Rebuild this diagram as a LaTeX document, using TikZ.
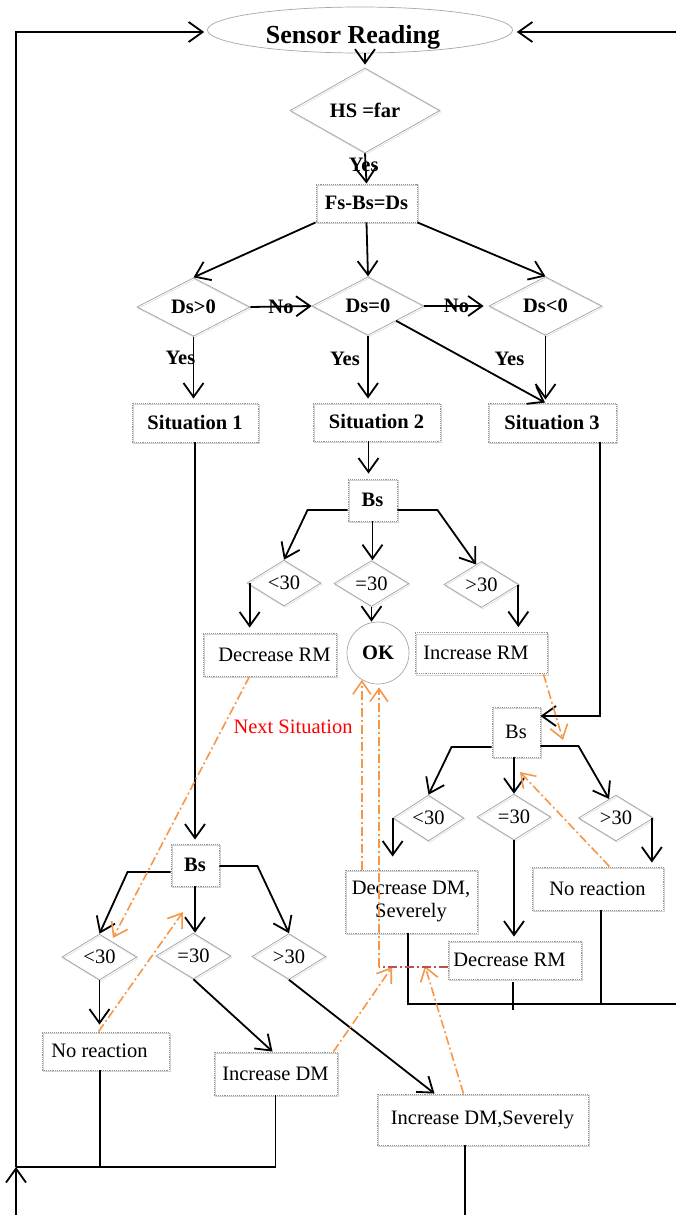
\documentclass[tikz,border=0pt]{standalone}
\usepackage{fontspec}
\setmainfont{Liberation Serif}
\usetikzlibrary{arrows.meta,shapes.geometric,calc}
\definecolor{flowaccent}{RGB}{247,150,70}
\definecolor{linkred}{RGB}{192,80,77}
\begin{document}
\begin{tikzpicture}[x=1pt,y=1pt,
  txt/.style={font=\fontsize{20.5}{23}\selectfont},
  btxt/.style={font=\fontsize{20.5}{23}\selectfont\bfseries},
  stepbox/.style={draw=gray!85, densely dotted, line width=0.9pt, inner sep=0pt, align=center,
    preaction={draw=gray!35, solid, line width=0.8pt, transform canvas={shift={(1.5pt,-1.8pt)}}}},
  decision/.style={diamond, draw=gray!75, line width=0.7pt, inner sep=0pt,
    preaction={draw=gray!25, line width=0.7pt, transform canvas={shift={(1pt,-1.5pt)}}}},
  arr/.style={-{Straight Barb[length=14pt,width=20pt]}, line width=1.8pt},
  link/.style={line width=1.8pt},
  dashdot/.style={line width=1.6pt, dash pattern=on 9pt off 3pt on 2pt off 3pt},
  backref/.style={dashdot, draw=flowaccent, -{Straight Barb[length=13pt,width=18pt]}},
  lbl/.style={btxt, inner sep=0pt}
]
\useasboundingbox (0,0) rectangle (676,-1215);

% ---- top of the chart
\node[ellipse, draw=gray!70, line width=0.7pt, minimum width=305pt, minimum height=46pt, inner sep=0pt,
      font=\fontsize{26}{28}\selectfont\bfseries] (sensor) at (360,-30)
      {\raisebox{-14pt}[0pt][0pt]{\makebox[0pt]{\kern-14pt Sensor Reading}}};
\node[decision, btxt, minimum width=150pt, minimum height=55pt] (hs) at (365,-110.5) {HS =far};
\node[stepbox, btxt, minimum width=101pt, minimum height=38pt] (fs) at (366.5,-203) {Fs-Bs=Ds};

\node[decision, btxt, minimum width=113pt, minimum height=56pt] (dsp) at (193.5,-307) {Ds>0};
\node[decision, btxt, minimum width=112pt, minimum height=56pt] (dsz) at (368,-306) {Ds=0};
\node[decision, btxt, minimum width=113pt, minimum height=56pt] (dsn) at (545.5,-306) {Ds<0};

\node[stepbox, btxt, minimum width=126pt, minimum height=39pt] (sit1) at (195,-422.5) {Situation 1};
\node[stepbox, btxt, minimum width=127pt, minimum height=38pt] (sit2) at (376.5,-422) {Situation 2};
\node[stepbox, btxt, minimum width=128pt, minimum height=39pt] (sit3) at (552,-422.5) {Situation 3};

% ---- situation 2 branch
\node[stepbox, btxt, minimum width=49pt, minimum height=42pt] (bsM) at (372.5,-500) {Bs};
\node[decision, txt, minimum width=74pt, minimum height=43pt] (lt30M) at (284,-583) {<30};
\node[decision, txt, minimum width=75pt, minimum height=43pt] (eq30M) at (371.5,-583.5) {=30};
\node[decision, txt, minimum width=75pt, minimum height=43pt] (gt30M) at (481.5,-584.5) {>30};
\node[stepbox, txt, minimum width=133pt, minimum height=43pt] (decRM) at (269.5,-654.5) {\hspace{10pt}Decrease RM};
\node[circle, draw=gray!70, line width=0.7pt, minimum size=62pt, inner sep=0pt, btxt] (ok) at (378,-653) {OK};
\node[stepbox, txt, minimum width=132pt, minimum height=41pt] (incRM) at (481,-653) {Increase RM\hspace{10pt}};

% ---- situation 3 branch
\node[stepbox, txt, minimum width=48pt, minimum height=50pt] (bsR) at (516,-732) {Bs};
\node[decision, txt, minimum width=71pt, minimum height=43pt] (lt30R) at (428.5,-818) {<30};
\node[decision, txt, minimum width=74pt, minimum height=42pt] (eq30R) at (514,-817) {=30};
\node[decision, txt, minimum width=75pt, minimum height=43pt] (gt30R) at (616,-818) {>30};
\node[stepbox, txt, minimum width=132pt, minimum height=63pt] (decDMS) at (411,-901.5) {Decrease DM,\\Severely};
\node[stepbox, txt, minimum width=133pt, minimum height=38pt] (decRM2) at (514.5,-960) {Decrease RM\hspace{10pt}};
\node[stepbox, txt, minimum width=131pt, minimum height=43pt] (noreR) at (597.5,-888.5) {No reaction};

% ---- situation 1 branch
\node[stepbox, btxt, minimum width=48pt, minimum height=42pt] (bsL) at (195,-865) {Bs};
\node[decision, txt, minimum width=75pt, minimum height=43pt] (lt30L) at (99.5,-957) {<30};
\node[decision, txt, minimum width=75pt, minimum height=43pt] (eq30L) at (193.5,-956) {=30};
\node[decision, txt, minimum width=74pt, minimum height=43pt] (gt30L) at (289,-956.5) {>30};
\node[stepbox, txt, minimum width=127pt, minimum height=38pt] (noreL) at (105.5,-1051) {No reaction\hspace{12pt}};
\node[stepbox, txt, minimum width=123pt, minimum height=43pt] (incDM) at (275.5,-1073.5) {Increase DM};
\node[stepbox, txt, minimum width=211pt, minimum height=51pt] (incDMS) at (482.5,-1119.5) {Increase DM,Severely};

\node[txt, text=red] (nextlbl) at (293,-727) {Next Situation};

% ---- main decision flow
\draw[arr, shorten >=3pt] (hs.north |- sensor.south) -- (hs.north);
\draw[arr] (hs.south) -- node[lbl, xshift=-2pt, yshift=4pt] {Yes} (fs.north);
\draw[arr] (fs.south west) -- (dsp.north);
\draw[arr] (fs.south) -- (dsz.north);
\draw[arr] (fs.south east) -- (dsn.north);
\draw[arr] (dsp.east) -- node[lbl] {No} (dsz.west);
\draw[arr, shorten >=5pt] (dsz.east) -- node[lbl] {No} (dsn.west);
\draw[arr, shorten >=4pt] (dsp.south) -- node[lbl, pos=.33, xshift=-13pt] {Yes} (dsp.south |- sit1.north);
\draw[arr, shorten >=4pt] (dsz.south) -- node[lbl, pos=.35, xshift=-23pt] {Yes} (dsz.south |- sit2.north);
\draw[arr, shorten >=3pt] (dsn.south) -- node[lbl, pos=.35, xshift=-36pt] {Yes} (dsn.south |- sit3.north);
\draw[arr] (dsz.south east) -- ([xshift=-7pt]sit3.north);

% ---- situation 2 branch
\coordinate (m2) at ([xshift=-4pt]bsM.north);
\draw[arr, shorten >=5pt] (m2 |- sit2.south) -- (m2);
\draw[arr] ([yshift=-10pt]bsM.west) -- ++(-40,0) -- (lt30M.north);
\draw[arr] (bsM.south) -- (bsM.south |- eq30M.north);
\draw[arr] ([yshift=-10pt]bsM.east) -- ++(40,0) -- (gt30M.105);
\coordinate (a1) at ([xshift=3pt]lt30M.west);
\draw[arr, shorten >=5pt] (a1) -- (a1 |- decRM.north);
\draw[arr] (eq30M.south) -- (eq30M.south |- ok.north);
\coordinate (a3) at ([xshift=-1pt]gt30M.east);
\draw[arr, shorten >=5pt] (a3) -- (a3 |- incRM.north);

% ---- situation 3 branch
\coordinate (s3) at ([xshift=48pt]sit3.south);
\draw[arr] (s3) |- ([yshift=16pt]bsR.east);
\draw[arr] ([yshift=-15pt]bsR.west) -- ++(-40,0) -- (lt30R.north);
\draw[arr] (eq30R.north |- bsR.south) -- (eq30R.north);
\draw[arr] ([yshift=-14pt]bsR.east) -- ++(38,0) -- (gt30R.110);
\draw[arr, shorten >=13pt] (lt30R.west) -- (lt30R.west |- decDMS.north);
\draw[arr, shorten >=4pt] (eq30R.south) -- (eq30R.south |- decRM2.north);
\coordinate (a6) at ([xshift=-2pt]gt30R.east);
\draw[arr, shorten >=4pt] (a6) -- (a6 |- noreR.north);

% ---- situation 1 branch
\draw[arr, shorten >=4pt] (sit1.south) -- (bsL.north);
\draw[arr] ([yshift=-7pt]bsL.west) -- ++(-43,0) -- (lt30L.north);
\draw[arr] (bsL.south) -- (bsL.south |- eq30L.north);
\draw[arr] ([yshift=-1pt]bsL.east) -- ++(38,0) -- (gt30L.north);
\draw[arr, shorten >=7pt] (lt30L.south) -- (lt30L.south |- noreL.north);
\draw[arr] (eq30L.south) -- ([xshift=-3pt]incDM.north);
\draw[arr] (gt30L.south) -- ([xshift=-48pt]incDMS.north);

% ---- return paths to the sensor reading
\coordinate (loopL) at (16,-1167);
\coordinate (edgeBL) at (16,-1215);
\draw[arr] (edgeBL) -- (loopL);
\draw[arr, shorten >=3pt] (loopL) |- ([yshift=-2pt]sensor.west);
\coordinate (nlb) at ([xshift=-5.5pt]noreL.south);
\draw[link] (nlb) -- (nlb |- loopL);
\draw[link] (loopL) -| (incDM.south);
\coordinate (edgeBM) at (465,-1215);
\coordinate (dmsb) at ([xshift=-17.5pt]incDMS.south);
\draw[link] (dmsb) -- (dmsb |- edgeBM);
\coordinate (edgeTR) at (676,-32);
\draw[arr, shorten >=4pt] (edgeTR) -- (edgeTR -| sensor.east);
\coordinate (edgeR) at (676,-1004);
\coordinate (ddb) at ([xshift=-3pt]decDMS.south);
\draw[link] (ddb) |- (edgeR);
\coordinate (nrb) at ([xshift=3.5pt]noreR.south);
\draw[link] (nrb) -- (nrb |- edgeR);
\coordinate (rmb) at ([xshift=-1.5pt,yshift=-3pt]decRM2.south);
\draw[link] (rmb) -- ++(0,-28);

% ---- next-situation references
\coordinate (o1) at (113,-938);
\draw[backref] ([xshift=-20pt]decRM.south) -- (o1);
\coordinate (o2) at (183,-912);
\draw[backref] ([xshift=-7pt]noreL.north) -- (o2);
\coordinate (o3) at (392,-967);
\draw[backref] ([xshift=-4pt]incDM.north east) -- (o3);
\coordinate (o4) at (425,-966);
\draw[backref] ([xshift=-19pt]incDMS.north) -- (o4);
\coordinate (rj) at (379,-967);
\draw[dashdot, draw=linkred] ([yshift=-7pt]decRM2.west) -- (rj);
\draw[backref, shorten >=3pt] (rj) -- (rj |- ok.south);
\coordinate (ov) at (ok.239);
\draw[backref] (ov |- decDMS.north) -- (ov);
\coordinate (o7) at (563,-740);
\draw[backref] ([xshift=-4pt]incRM.south east) -- (o7);
\coordinate (o8) at (520,-772);
\draw[backref] ([xshift=12pt]noreR.north) -- (o8);
\end{tikzpicture}
\end{document}
